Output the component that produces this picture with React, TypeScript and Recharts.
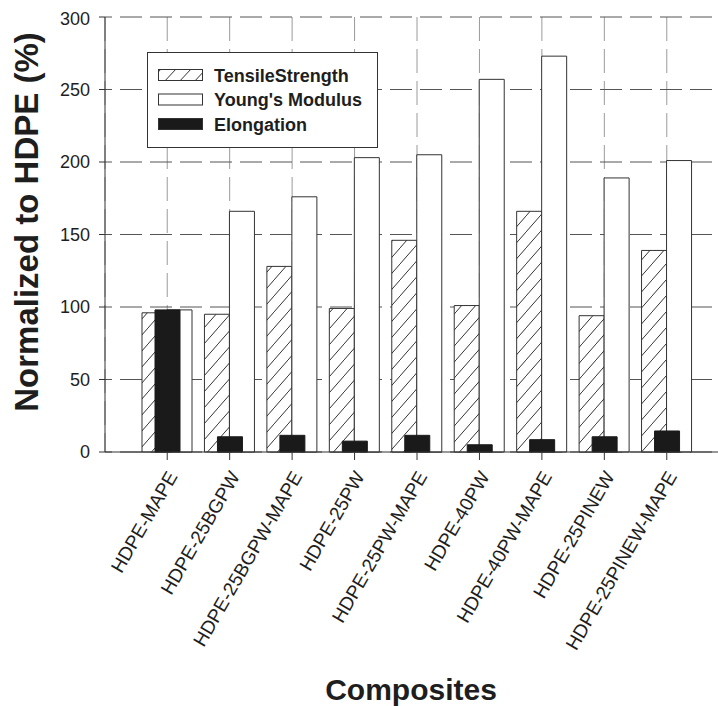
import React from 'react';
import { BarChart, Bar, XAxis, YAxis, CartesianGrid, Legend } from 'recharts';

const composites = [
    'HDPE-MAPE',
    'HDPE-25BGPW',
    'HDPE-25BGPW-MAPE',
    'HDPE-25PW',
    'HDPE-25PW-MAPE',
    'HDPE-40PW',
    'HDPE-40PW-MAPE',
    'HDPE-25PINEW',
    'HDPE-25PINEW-MAPE',
];
const tensileStrength = [96, 95, 128, 99, 146, 101, 166, 94, 139];
const youngsModulus = [98, 166, 176, 203, 205, 257, 273, 189, 201];
const elongation = [98, 10.5, 11.5, 7.5, 11.5, 5, 8.5, 10.5, 14.5];
const yTicks = [0, 50, 100, 150, 200, 250, 300];

const legendItems = [
    { name: 'TensileStrength', kind: 'hatch' },
    { name: "Young's Modulus", kind: 'white' },
    { name: 'Elongation', kind: 'black' },
];

const FONT = '"Liberation Sans", Arial, sans-serif';
const INK = '#1e1e1e';

const data = composites.map((c, i) => ({
    name: c,
    tensile: tensileStrength[i],
    modulus: youngsModulus[i],
    elong: elongation[i],
}));

const CompositeTick = (props: any) => {
    const { x, y, payload } = props;
    return (
        <g transform={`translate(${x + 5},${y + 13})`}>
            <text transform="rotate(-60)" textAnchor="end" dy="0.35em" fontSize={19} fill={INK} fontFamily={FONT}>
                {payload.value}
            </text>
        </g>
    );
};

const renderLegend = () => (
    <svg width={232} height={96} style={{ display: 'block' }}>
        <defs>
            <pattern id="hatchLegend" patternUnits="userSpaceOnUse" width={15} height={16}>
                <rect width={15} height={16} fill="#fff" />
                <line x1={0} y1={16} x2={15} y2={0} stroke="#333" strokeWidth={1} />
            </pattern>
        </defs>
        <rect x={0.5} y={0.5} width={230} height={95} fill="#fff" stroke="#333" />
        {legendItems.map((it, i) => {
            const top = 17 + i * 24.5;
            const fill = it.kind === 'hatch' ? 'url(#hatchLegend)' : it.kind === 'white' ? '#fff' : '#1a1a1a';
            return (
                <g key={it.name}>
                    <rect x={11.5} y={top + 0.5} width={44} height={11} fill={fill} stroke="#333" />
                    <text x={67} y={top + 12.5} fontSize={18} fontWeight="bold" fill={INK} fontFamily={FONT}>
                        {it.name}
                    </text>
                </g>
            );
        })}
    </svg>
);

export default function App() {
    return (
        <div style={{ position: 'absolute', left: 8, top: 8, width: 710, height: 698, overflow: 'hidden' }}>
            <BarChart
                width={740}
                height={698}
                data={data}
                margin={{ top: 9, right: 19, bottom: 0, left: 0 }}
                barGap={0}
            >
                <defs>
                    <pattern id="hatch" patternUnits="userSpaceOnUse" width={14} height={16}>
                        <rect width={14} height={16} fill="#fff" />
                        <line x1={-1} y1={17.1} x2={15} y2={-1.1} stroke="#333" strokeWidth={1} />
                    </pattern>
                </defs>
                <CartesianGrid horizontal={false} stroke="#9a9a9a" strokeDasharray="24 8" />
                <CartesianGrid vertical={false} stroke="#555" strokeDasharray="22 8" strokeDashoffset={-15} />
                <XAxis
                    dataKey="name"
                    padding={{ left: 31, right: 31 }}
                    height={254}
                    interval={0}
                    tickSize={8}
                    tickMargin={0}
                    stroke="#333"
                    tick={<CompositeTick />}
                    label={() => (
                        <text x={403} y={692} textAnchor="middle" fontSize={30} fontWeight="bold" fill={INK} fontFamily={FONT}>
                            Composites
                        </text>
                    )}
                />
                <XAxis
                    xAxisId="top"
                    dataKey="name"
                    orientation="top"
                    padding={{ left: 31, right: 31 }}
                    height={0}
                    tick={false}
                    tickLine={false}
                    stroke="#333"
                />
                <YAxis
                    width={97}
                    domain={[0, 300]}
                    ticks={yTicks}
                    tickSize={6}
                    tickMargin={9}
                    stroke="#333"
                    tick={{ fontSize: 18, fill: INK, fontFamily: FONT }}
                    label={() => (
                        <text
                            x={30}
                            y={214}
                            transform="rotate(-90, 30, 214)"
                            textAnchor="middle"
                            fontSize={33}
                            fontWeight="bold"
                            fill={INK}
                            fontFamily={FONT}
                        >
                            Normalized to HDPE (%)
                        </text>
                    )}
                />
                <Legend
                    layout="horizontal"
                    verticalAlign="middle"
                    align="center"
                    content={renderLegend}
                    wrapperStyle={{ left: 139, top: 44, width: 232, height: 96 }}
                />
                <Bar dataKey="tensile" name="TensileStrength" barSize={25} fill="url(#hatch)" stroke="#333" isAnimationActive={false} />
                <Bar dataKey="modulus" name="Young's Modulus" barSize={25} fill="#fff" stroke="#333" isAnimationActive={false} />
                <Bar dataKey="elong" name="Elongation" xAxisId="top" barSize={25} fill="#1a1a1a" stroke="#1a1a1a" isAnimationActive={false} />
            </BarChart>
        </div>
    );
}
